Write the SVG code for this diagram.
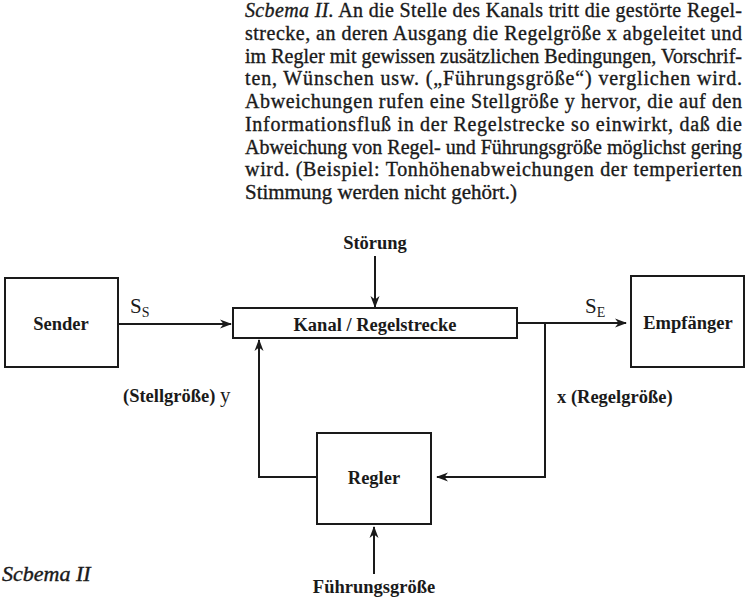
<svg xmlns="http://www.w3.org/2000/svg" width="747" height="600" viewBox="0 0 747 600">
<style>
  .para { font-family: "Liberation Serif", "DejaVu Serif", serif; font-size: 20px; fill: #1a1a1a; stroke: #1a1a1a; stroke-width: 0.35; }
  .lbl { font-family: "Liberation Serif", "DejaVu Serif", serif; font-size: 18.5px; font-weight: bold; fill: #1a1a1a; }
  .box { fill: #ffffff; stroke: #1a1a1a; stroke-width: 2; }
  .wire { fill: none; stroke: #1a1a1a; stroke-width: 2; }
  .it { font-style: italic; }
</style>
<defs>
  <marker id="arr" viewBox="0 0 12 10" refX="11" refY="5" markerWidth="12" markerHeight="10" markerUnits="userSpaceOnUse" orient="auto">
    <path d="M0,0.5 L12,5 L0,9.5 L3.5,5 Z" fill="#1a1a1a"/>
  </marker>
</defs>
<rect width="747" height="600" fill="#ffffff"/>

<g id="caption">
  <text class="para" x="245" y="17" textLength="497" lengthAdjust="spacing"><tspan class="it">Scbema II.</tspan> An die Stelle des Kanals tritt die gestörte Regel-</text>
  <text class="para" x="245" y="40" textLength="497" lengthAdjust="spacing">strecke, an deren Ausgang die Regelgröße x abgeleitet und</text>
  <text class="para" x="245" y="63" textLength="497" lengthAdjust="spacing">im Regler mit gewissen zusätzlichen Bedingungen, Vorschrif-</text>
  <text class="para" x="245" y="85" textLength="497" lengthAdjust="spacing">ten, Wünschen usw. („Führungsgröße“) verglichen wird.</text>
  <text class="para" x="245" y="108" textLength="497" lengthAdjust="spacing">Abweichungen rufen eine Stellgröße y hervor, die auf den</text>
  <text class="para" x="245" y="131" textLength="497" lengthAdjust="spacing">Informationsfluß in der Regelstrecke so einwirkt, daß die</text>
  <text class="para" x="245" y="154" textLength="497" lengthAdjust="spacing">Abweichung von Regel- und Führungsgröße möglichst gering</text>
  <text class="para" x="245" y="176" textLength="497" lengthAdjust="spacing">wird. (Beispiel: Tonhöhenabweichungen der temperierten</text>
  <text class="para" x="245" y="199" textLength="272" lengthAdjust="spacingAndGlyphs">Stimmung werden nicht gehört.)</text>
</g>

<g id="connectors">
  <path class="wire" d="M118,324 H231" marker-end="url(#arr)"/>
  <path class="wire" d="M375,256 V307" marker-end="url(#arr)"/>
  <path class="wire" d="M517,323 H626" marker-end="url(#arr)"/>
  <path class="wire" d="M545,323 V477 H437" marker-end="url(#arr)"/>
  <path class="wire" d="M317,477 H259 V340" marker-end="url(#arr)"/>
  <path class="wire" d="M374,574 V527" marker-end="url(#arr)"/>
</g>

<g id="sender">
  <rect class="box" x="5" y="278" width="113" height="89"/>
  <text class="lbl" x="61" y="330" text-anchor="middle">Sender</text>
</g>
<g id="kanal">
  <rect class="box" x="233" y="308" width="284" height="30"/>
  <text class="lbl" x="375" y="331" text-anchor="middle">Kanal / Regelstrecke</text>
</g>
<g id="empfaenger">
  <rect class="box" x="631" y="276" width="113" height="91"/>
  <text class="lbl" x="688" y="329" text-anchor="middle">Empfänger</text>
</g>
<g id="regler">
  <rect class="box" x="317" y="433" width="114" height="91"/>
  <text class="lbl" x="374" y="484" text-anchor="middle">Regler</text>
</g>

<g id="labels">
  <text class="lbl" x="375" y="249" text-anchor="middle">Störung</text>
  <text class="lbl" x="130" y="313" style="font-size:21px;font-weight:normal">S<tspan style="font-size:14px" dy="4">S</tspan></text>
  <text class="lbl" x="585" y="313" style="font-size:21px;font-weight:normal">S<tspan style="font-size:14px" dy="4">E</tspan></text>
  <text class="lbl" x="123" y="402">(Stellgröße) <tspan style="font-size:21px;font-weight:normal">y</tspan></text>
  <text class="lbl" x="557" y="403">x (Regelgröße)</text>
  <text class="lbl" x="374" y="593" text-anchor="middle">Führungsgröße</text>
  <text x="2" y="581" style="font-family:'Liberation Serif','DejaVu Serif',serif;font-size:22px;font-style:italic;fill:#1a1a1a;stroke:#1a1a1a;stroke-width:0.4">Scbema II</text>
</g>
</svg>
